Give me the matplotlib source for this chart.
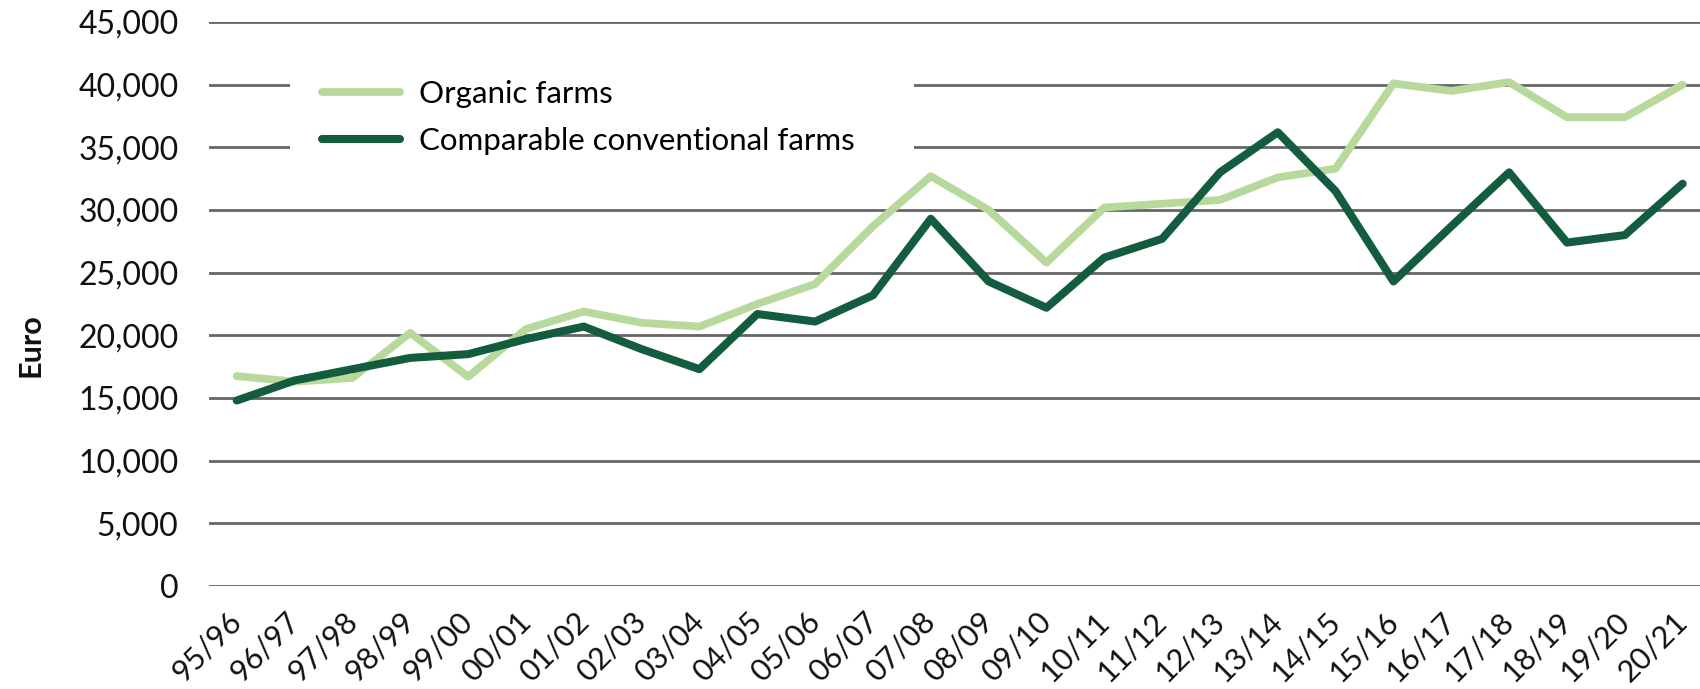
import matplotlib
matplotlib.use("Agg")
import matplotlib.pyplot as plt
from matplotlib.patches import Rectangle
from matplotlib.ticker import FuncFormatter

# ---- data ----
years = ["95/96", "96/97", "97/98", "98/99", "99/00", "00/01", "01/02", "02/03",
         "03/04", "04/05", "05/06", "06/07", "07/08", "08/09", "09/10", "10/11",
         "11/12", "12/13", "13/14", "14/15", "15/16", "16/17", "17/18", "18/19",
         "19/20", "20/21"]
organic = [16750, 16300, 16600, 20200, 16700, 20500, 21900, 21000, 20700, 22500,
           24100, 28700, 32700, 30000, 25800, 30200, 30500, 30800, 32600, 33300,
           40100, 39500, 40200, 37400, 37400, 40000]
conventional = [14800, 16400, 17300, 18200, 18500, 19700, 20700, 18900, 17300, 21700,
                21100, 23200, 29300, 24300, 22200, 26200, 27700, 33000, 36200, 31500,
                24300, 28700, 33000, 27400, 28000, 32100]
series_labels = ["Organic farms", "Comparable conventional farms"]
y_ticks = list(range(0, 45001, 5000))

# ---- style ----
plt.rcParams['font.family'] = ['Lato', 'DejaVu Sans']
C_ORG = "#b8d99c"
C_CONV = "#145c3e"
GRID = "#666666"

W, H = 1700, 689
fig = plt.figure(figsize=(W / 100, H / 100), dpi=100)
ax = fig.add_axes([209 / W, 1 - 586 / H, (W - 209) / W, (586 - 22) / H])

x = list(range(len(years)))
for yv in y_ticks:
    ax.axhline(yv, color=GRID, lw=2.0, zorder=1)

# white box behind the legend (hides gridlines there)
fig.patches.append(Rectangle((290 / W, 1 - 172 / H), (914 - 290) / W, (172 - 52) / H,
                             transform=fig.transFigure, facecolor="white",
                             edgecolor="none", zorder=2))

l1, = ax.plot(x, organic, color=C_ORG, lw=5.6, solid_capstyle="round", zorder=3)
l2, = ax.plot(x, conventional, color=C_CONV, lw=5.8, solid_capstyle="round", zorder=4)

ax.set_xlim(-0.48, 25.3)
ax.set_ylim(0, 45000)
ax.set_yticks(y_ticks)
ax.yaxis.set_major_formatter(FuncFormatter(lambda v, p: f"{int(v):,}"))
ax.set_xticks(x)
ax.set_xticklabels(years, rotation=45, ha="right", va="center", rotation_mode="anchor")
ax.tick_params(axis="y", length=0, pad=22, labelsize=23, labelcolor="#111111")
ax.tick_params(axis="x", length=0, pad=22, labelsize=22, labelcolor="#111111")
for s in ax.spines.values():
    s.set_visible(False)
ax.set_facecolor("none")

fig.text(30 / W, 1 - 345 / H, "Euro", rotation=90, ha="center", va="center",
         fontsize=22, fontweight="bold", color="#111111")

leg = fig.legend([l1, l2], series_labels, loc="upper left",
                 bbox_to_anchor=(322 / W, 1 - 80 / H), frameon=False,
                 fontsize=22.5, handlelength=2.5, handletextpad=0.6,
                 labelspacing=0.6, borderaxespad=0, borderpad=0)
leg.set_zorder(5)

fig.savefig("out.png", dpi=100)
